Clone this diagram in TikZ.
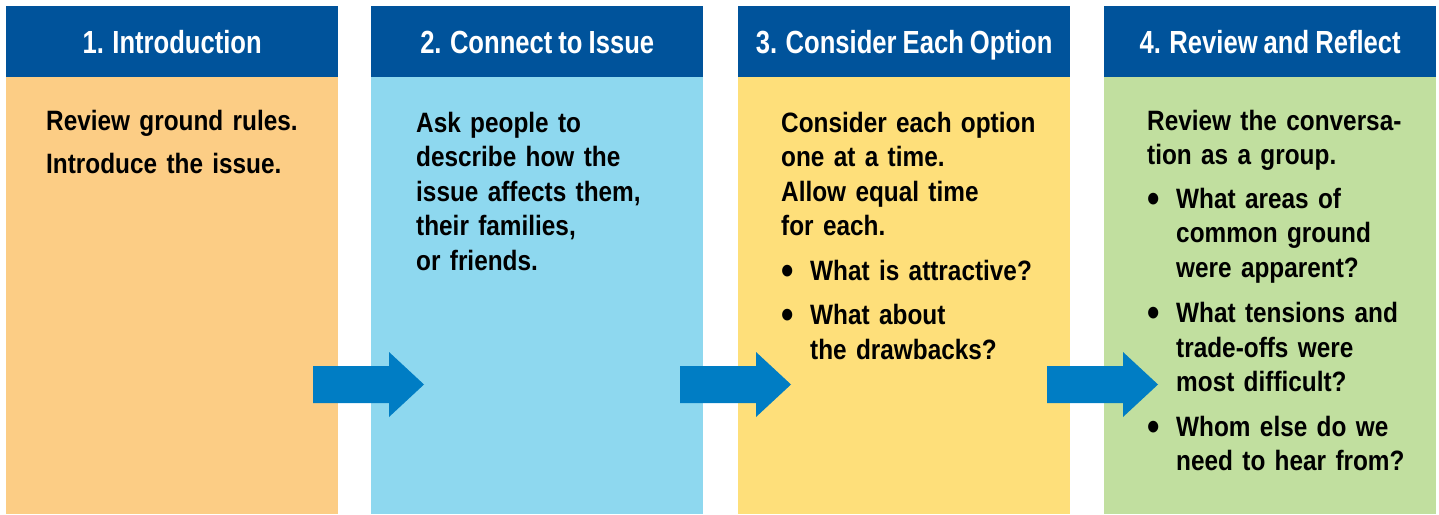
\documentclass[tikz,border=0pt]{standalone}
\usepackage{fontspec}
\setmainfont{Liberation Sans}
\newfontfamily\headfont[FakeStretch=0.80,WordSpace=0.85]{Liberation Sans}
\newfontfamily\bodyfont[FakeStretch=0.87]{Liberation Sans}
\usepackage{tikz}

\definecolor{headblue}{RGB}{0,83,155}
\definecolor{arrowblue}{RGB}{0,125,196}
\definecolor{introcol}{RGB}{252,205,133}
\definecolor{issuecol}{RGB}{142,216,239}
\definecolor{optioncol}{RGB}{254,223,122}
\definecolor{reviewcol}{RGB}{193,223,159}

\newcommand{\itm}{\makebox[29pt][l]{\raisebox{-4pt}{\scalebox{1.45}{\textbullet}}}}
\newcommand{\itmcont}{\hspace*{29pt}}

\begin{document}
\begin{tikzpicture}[x=1pt,y=-1pt,
  colhead/.style={fill=headblue,text=white,inner sep=0,anchor=north west,
    minimum width=332pt,minimum height=71pt,text height=23pt,text depth=0pt,
    font=\headfont\bfseries\fontsize{32}{36}\selectfont},
  colbox/.style={inner sep=0,anchor=north west,minimum width=332pt,minimum height=437pt},
  coltext/.style={inner sep=0,anchor=base west,text width=300pt,align=left,
    font=\bodyfont\bfseries\fontsize{28}{34.5}\selectfont}]
\useasboundingbox (0,0) rectangle (1439,514);

% columns
\node [colbox,fill=introcol] (col1) at (6,77) {};
\node [colbox,fill=issuecol] (col2) at (371,77) {};
\node [colbox,fill=optioncol] (col3) at (738,77) {};
\node [colbox,fill=reviewcol] (col4) at (1104,77) {};

% headers
\node [colhead] (hdr1) at (6,6) {1. Introduction};
\node [colhead] (hdr2) at (371,6) {2. Connect to Issue};
\node [colhead] (hdr3) at (738,6) {3. Consider Each Option};
\node [colhead] (hdr4) at (1104,6) {4. Review and Reflect};

% texts
\node [coltext] (txt1) at (46,130) {Review ground rules.\\[8.5pt]
  Introduce the issue.};
\node [coltext] (txt2) at (416,132) {Ask people to\\ describe how the\\
  issue affects them,\\ their families,\\ or friends.};
\node [coltext] (txt3) at (781,132) {Consider each option\\ one at a time.\\
  Allow equal time\\ for each.\\[10pt]
  \itm What is attractive?\\[10pt]
  \itm What about\\ \itmcont the drawbacks?};
\node [coltext] (txt4) at (1147,130) {Review the conversa-\\ tion as a group.\\[9pt]
  \itm What areas of\\ \itmcont common ground\\ \itmcont were apparent?\\[11pt]
  \itm What tensions and\\ \itmcont trade-offs were\\ \itmcont most difficult?\\[10pt]
  \itm Whom else do we\\ \itmcont need to hear from?};

% arrows
\foreach \ax in {313,680,1047}
  \fill [arrowblue] (\ax,366) -- ++(76,0) -- ++(0,-14) -- ++(35,32.5)
    -- ++(-35,32.5) -- ++(0,-14) -- ++(-76,0) -- cycle;
\end{tikzpicture}
\end{document}
